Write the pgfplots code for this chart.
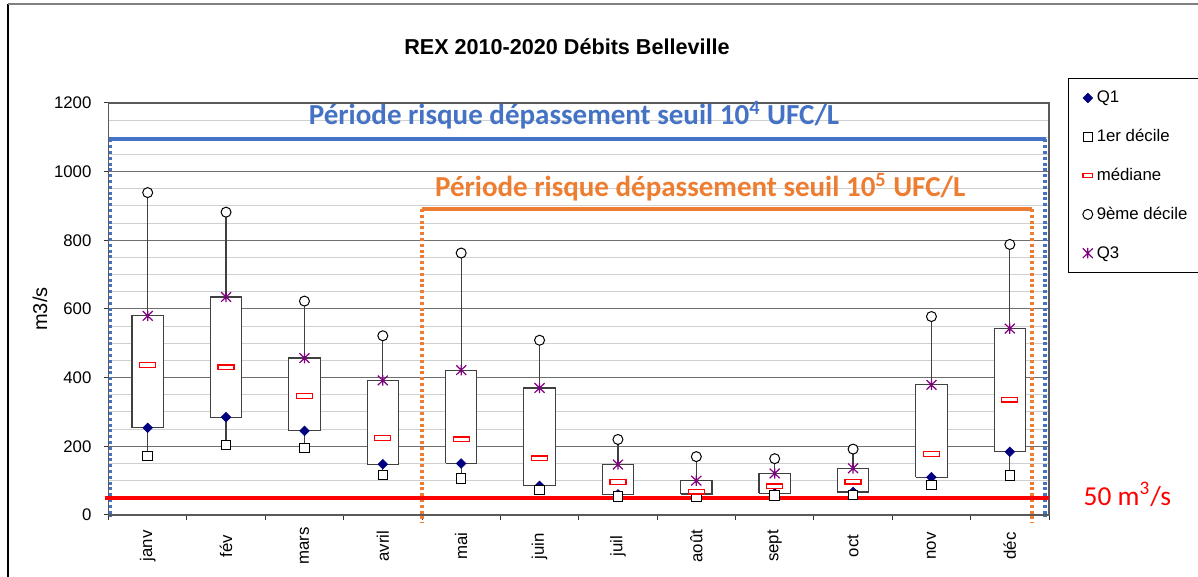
\documentclass[border=0pt]{standalone}
\usepackage{fontspec}
\setmainfont{Liberation Sans}
\newfontfamily\calibri{Carlito}
\usepackage{pgfplots}
\pgfplotsset{compat=1.18}
\usepackage{pgfplotstable}
\definecolor{xlblue}{HTML}{4472C4}
\definecolor{xlorange}{HTML}{ED7D31}
\definecolor{navyq}{HTML}{000080}
\definecolor{purpq}{HTML}{800080}
\definecolor{majgrid}{HTML}{6F6F6F}
\definecolor{mingrid}{HTML}{D0D0D0}
\pgfdeclareplotmark{medrect}{\pgfpathrectangle{\pgfqpoint{-4pt}{-1.2pt}}{\pgfqpoint{8pt}{2.4pt}}\pgfusepathqfillstroke}
\pgfdeclareplotmark{dia}{%
  \pgfpathmoveto{\pgfqpoint{0pt}{2.4pt}}\pgfpathlineto{\pgfqpoint{2.4pt}{0pt}}%
  \pgfpathlineto{\pgfqpoint{0pt}{-2.4pt}}\pgfpathlineto{\pgfqpoint{-2.4pt}{0pt}}\pgfpathclose
  \pgfusepathqfillstroke}
\pgfdeclareplotmark{xstar}{%
  \pgfpathmoveto{\pgfqpoint{-2.5pt}{-2.4pt}}\pgfpathlineto{\pgfqpoint{2.5pt}{2.4pt}}%
  \pgfpathmoveto{\pgfqpoint{-2.5pt}{2.4pt}}\pgfpathlineto{\pgfqpoint{2.5pt}{-2.4pt}}%
  \pgfpathmoveto{\pgfqpoint{0pt}{-2.6pt}}\pgfpathlineto{\pgfqpoint{0pt}{2.6pt}}%
  \pgfusepathqstroke}

\pgfplotstableread{
x d1 q1 med q3 d9
1 172 254 437 580 939
2 203 285 430 635 882
3 196 245 346 457 623
4 117 148 225 392 522
5 106 150 220 422 763
6 73 85 165 370 509
7 54 60 96 147 220
8 53 61 68 100 170
9 57 63 83 121 164
10 58 67 97 136 192
11 87 110 178 379 578
12 115 184 336 543 788
}\data

\newcommand{\lf}{\fontsize{8.4}{10}\selectfont}

\begin{document}
\begin{tikzpicture}
\useasboundingbox (0,0) rectangle (599pt,288.5pt);
\draw[black, line width=0.7pt] (4pt,0) -- (4pt,286.5pt);
\draw[gray, line width=0.7pt] (4pt,286.5pt) -- (600pt,286.5pt);
\begin{axis}[
  at={(54.25pt,31pt)}, anchor=south west,
  scale only axis, width=470.25pt, height=206pt,
  xmin=0.5, xmax=12.5, ymin=0, ymax=1200,
  clip=false,
  xtick={0.5,1.5,...,12.5},
  xticklabels={janv,fév,mars,avril,mai,juin,juil,août,sept,oct,nov,déc},
  x tick label as interval,
  ytick={0,200,...,1200},
  minor y tick num=3,
  ymajorgrids, yminorgrids,
  major grid style={majgrid, line width=0.5pt},
  minor grid style={mingrid, line width=0.5pt},
  tick align=outside, major tick length=2.5pt, minor tick length=0pt,
  xtick pos=lower, ytick pos=left,
  tick style={black!80, line width=0.5pt},
  axis line style={black!65, line width=0.6pt},
  /pgf/number format/assume math mode=true,
  /pgf/number format/set thousands separator={},
  tick label style={font=\lf, black},
  xticklabel style={yshift=-13pt, rotate=90, anchor=center},
  yticklabel style={xshift=-2.5pt},
  ylabel={m3/s},
  ylabel style={font=\lf},
  every axis y label/.style={at={(axis description cs:-0.0728,0.5)}, rotate=90, anchor=center},
  legend style={at={(1.0202,1.0607)}, anchor=north west, draw=black, fill=white,
    font=\lf, row sep=10.4pt, column sep=1.8pt, inner xsep=7pt, inner ysep=5.3pt,
    nodes={inner sep=0pt, text height=7pt, text depth=2pt}},
  legend cell align=left,
  wk/.style={black!75, line width=0.6pt, forget plot},
  bx/.style={draw=black!75, fill=white, line width=0.6pt, forget plot},
  dotl/.style={line width=1.8pt, dash pattern=on 1.5pt off 1.4pt, forget plot},
]
% threshold lines
\addplot[xlblue, line width=2pt, forget plot] coordinates {(0.5,1094) (12.46,1094)};
\addplot[xlblue, dotl] coordinates {(0.527,1094) (0.527,-6)};
\addplot[xlblue, dotl] coordinates {(12.45,1094) (12.45,-6)};
\addplot[xlorange, line width=2pt, forget plot] coordinates {(4.5,891) (12.28,891)};
\addplot[xlorange, dotl] coordinates {(4.5,891) (4.5,-22)};
\addplot[xlorange, dotl] coordinates {(12.28,891) (12.28,-22)};
% whiskers (1er decile to 9eme decile)
\addplot[wk] coordinates {(1,172) (1,939)};
\addplot[wk] coordinates {(2,203) (2,882)};
\addplot[wk] coordinates {(3,196) (3,623)};
\addplot[wk] coordinates {(4,117) (4,522)};
\addplot[wk] coordinates {(5,106) (5,763)};
\addplot[wk] coordinates {(6,73) (6,509)};
\addplot[wk] coordinates {(7,54) (7,220)};
\addplot[wk] coordinates {(8,53) (8,170)};
\addplot[wk] coordinates {(9,57) (9,164)};
\addplot[wk] coordinates {(10,58) (10,192)};
\addplot[wk] coordinates {(11,87) (11,578)};
\addplot[wk] coordinates {(12,115) (12,788)};
% boxes Q1-Q3
\addplot[bx] coordinates {(0.8,254) (1.2,254) (1.2,580) (0.8,580) (0.8,254)};
\addplot[bx] coordinates {(1.8,285) (2.2,285) (2.2,635) (1.8,635) (1.8,285)};
\addplot[bx] coordinates {(2.8,245) (3.2,245) (3.2,457) (2.8,457) (2.8,245)};
\addplot[bx] coordinates {(3.8,148) (4.2,148) (4.2,392) (3.8,392) (3.8,148)};
\addplot[bx] coordinates {(4.8,150) (5.2,150) (5.2,422) (4.8,422) (4.8,150)};
\addplot[bx] coordinates {(5.8,85) (6.2,85) (6.2,370) (5.8,370) (5.8,85)};
\addplot[bx] coordinates {(6.8,60) (7.2,60) (7.2,147) (6.8,147) (6.8,60)};
\addplot[bx] coordinates {(7.8,61) (8.2,61) (8.2,100) (7.8,100) (7.8,61)};
\addplot[bx] coordinates {(8.8,63) (9.2,63) (9.2,121) (8.8,121) (8.8,63)};
\addplot[bx] coordinates {(9.8,67) (10.2,67) (10.2,136) (9.8,136) (9.8,67)};
\addplot[bx] coordinates {(10.8,110) (11.2,110) (11.2,379) (10.8,379) (10.8,110)};
\addplot[bx] coordinates {(11.8,184) (12.2,184) (12.2,543) (11.8,543) (11.8,184)};
% red threshold
\addplot[red, line width=2pt, forget plot] coordinates {(0.45,50) (12.5,50)};
% markers
\addplot[only marks, mark=dia, color=navyq, mark options={line width=0.3pt}] table[x=x,y=q1]{\data};
\addlegendentry{\makebox[75pt][l]{Q1}}
\addplot[only marks, mark=square*, mark size=2.35pt, draw=black, mark options={fill=white, line width=0.5pt}] table[x=x,y=d1]{\data};
\addlegendentry{\makebox[75pt][l]{1er décile}}
\addplot[only marks, mark=medrect, draw=red, mark options={fill=white, line width=0.6pt},
  legend image code/.code={\draw[red, line width=0.6pt, fill=white] (0.3cm-2.4pt,-1pt) rectangle (0.3cm+2.4pt,1pt);}] table[x=x,y=med]{\data};
\addlegendentry{\makebox[75pt][l]{médiane}}
\addplot[only marks, mark=*, mark size=2.5pt, draw=black, mark options={fill=white, line width=0.5pt}] table[x=x,y=d9]{\data};
\addlegendentry{\makebox[75pt][l]{9ème décile}}
\addplot[only marks, mark=xstar, color=purpq, mark options={line width=0.6pt}] table[x=x,y=q3]{\data};
\addlegendentry{\makebox[75pt][l]{Q3}}
% texts
\node[font=\bfseries\fontsize{10.8}{13}\selectfont, anchor=base] at (axis cs:6.35,1340) {REX 2010-2020 Débits Belleville};
\node[font=\calibri\bfseries\fontsize{14.5}{17}\selectfont, text=xlblue, anchor=base] at (axis cs:6.44,1136) {Période risque dépassement seuil 10\textsuperscript{4} UFC/L};
\node[font=\calibri\bfseries\fontsize{14.5}{17}\selectfont, text=xlorange, anchor=base] at (axis cs:8.05,927) {Période risque dépassement seuil 10\textsuperscript{5} UFC/L};
\node[font=\calibri\fontsize{13.7}{16}\selectfont, text=red, anchor=base] at (axis cs:13.5,29) {50 m\textsuperscript{3}/s};
\end{axis}
\end{tikzpicture}
\end{document}
